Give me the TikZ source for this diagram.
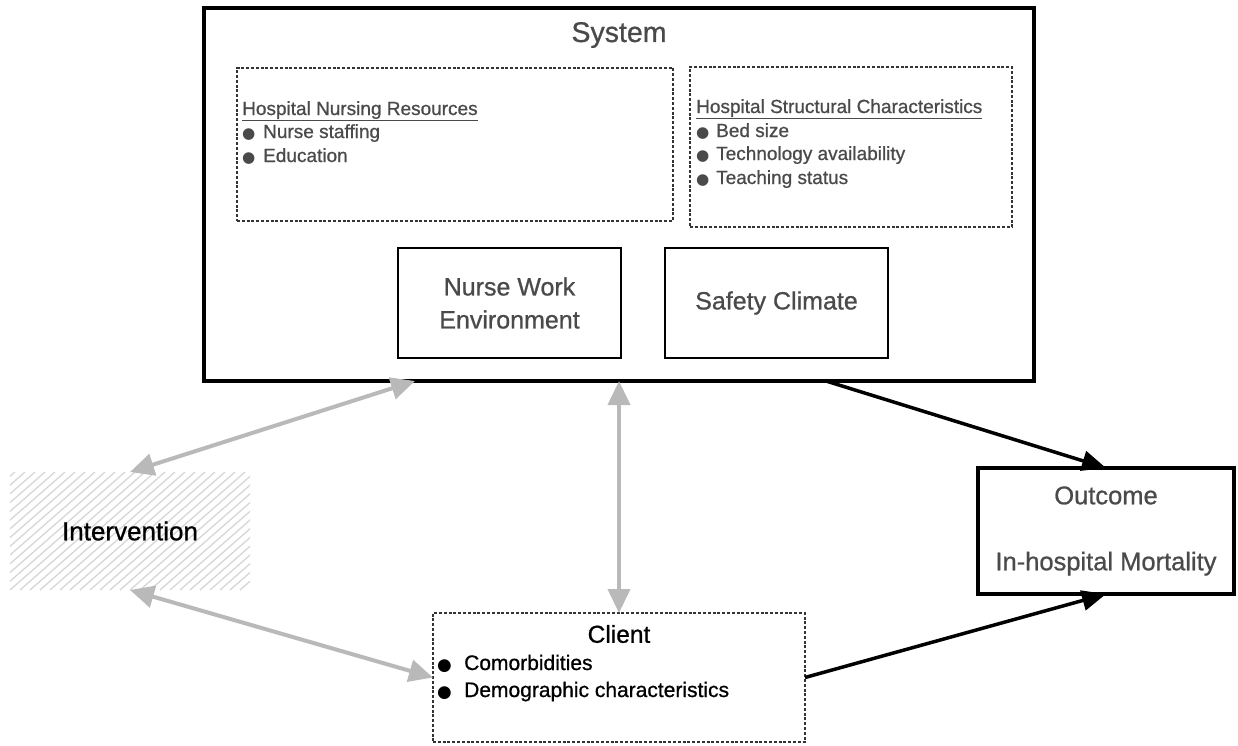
\documentclass[tikz,border=0pt]{standalone}
\usepackage{fontspec}
\setmainfont{Liberation Sans}[FakeBold=0.8]
\newfontfamily\symfont{DejaVu Sans}
\usetikzlibrary{arrows.meta,calc}
\definecolor{txtgray}{HTML}{4A4A4A}
\definecolor{arrgray}{HTML}{B9B9B9}
\definecolor{hatchgray}{HTML}{D6D6D6}
\newcommand{\bul}[1]{\makebox[#1][l]{\symfont\scalebox{0.8}{●}}}
\begin{document}
\begin{tikzpicture}[x=1pt,y=-1pt,
  thickbox/.style={draw=black, line width=3.5pt, outer sep=0pt, inner sep=0pt},
  midbox/.style={draw=black, line width=2.6pt, outer sep=0pt, inner sep=0pt},
  dashbox/.style={draw=black!80, line width=1.1pt, dash pattern=on 3pt off 1.8pt, outer sep=0pt, inner sep=0pt},
  listtxt/.style={anchor=base west, inner sep=0pt, text=txtgray, font=\fontsize{19}{22}\selectfont},
  clienttxt/.style={anchor=base west, inner sep=0pt, text=black, font=\fontsize{21}{24}\selectfont},
  bigtxt/.style={font=\fontsize{25}{33}\selectfont},
  garrow/.style={draw=arrgray, line width=4pt, {Triangle[length=24pt,width=22pt]}-{Triangle[length=24pt,width=22pt]}},
  barrow/.style={draw=black, line width=3.5pt, -{Triangle[length=24pt,width=20pt]}},
  hatch/.style={draw=hatchgray, line width=1.3pt}
]
\useasboundingbox (0,0) rectangle (1238,745);

% System box
\node[thickbox, minimum width=830pt, minimum height=373pt] (sys) at (619,194.5) {};
\node[text=txtgray, font=\fontsize{28.5}{30}\selectfont, inner sep=0pt] (systitle) at (619,35) {System};

% Hospital Nursing Resources
\node[dashbox, minimum width=436pt, minimum height=153pt] (hnr) at (455,144.5) {};
\node[listtxt] (hnr0) at (242,115) {\underline{Hospital Nursing Resources}};
\node[listtxt] (hnr1) at (242,138) {\bul{21pt}Nurse staffing};
\node[listtxt] (hnr2) at (242,162) {\bul{21pt}Education};

% Hospital Structural Characteristics
\node[dashbox, minimum width=322pt, minimum height=160pt] (hsc) at (851,147) {};
\node[listtxt] (hsc0) at (696,113) {\underline{Hospital Structural Characteristics}};
\node[listtxt] (hsc1) at (696,137) {\bul{20pt}Bed size};
\node[listtxt] (hsc2) at (696,160) {\bul{20pt}Technology availability};
\node[listtxt] (hsc3) at (696,184) {\bul{20pt}Teaching status};

% Nurse Work Environment / Safety Climate
\node[midbox, minimum width=223pt, minimum height=110pt, align=center, text=txtgray, bigtxt] (nwe) at (509.5,303) {Nurse Work\\Environment};
\node[midbox, minimum width=223pt, minimum height=110pt, align=center, text=txtgray, bigtxt] (sc) at (776.5,303) {Safety Climate};

% Intervention (hatched)
\node[minimum width=240pt, minimum height=118pt, inner sep=0pt, outer sep=0pt, text=black, font=\fontsize{26}{30}\selectfont,
  path picture={
    \foreach \i in {-150,-140,...,260}
      \draw[hatch] ($(path picture bounding box.south west)+(\i,0)$) -- ++(135,-118);
  }] (int) at (130,531) {Intervention};

% Client
\node[dashbox, minimum width=372pt, minimum height=129pt] (cl) at (619,677.5) {};
\node[text=black, font=\fontsize{24.5}{28}\selectfont, inner sep=0pt] (cltitle) at (619,634) {Client};
\node[clienttxt] (cl1) at (437,670) {\bul{27pt}Comorbidities};
\node[clienttxt] (cl2) at (437,697) {\bul{27pt}Demographic characteristics};

% Outcome
\node[thickbox, minimum width=256pt, minimum height=126pt, align=center, text=txtgray, font=\fontsize{25.5}{33}\selectfont] (out) at (1106,531) {Outcome\\[33pt]In-hospital Mortality};

% Connectors
\coordinate (s1) at (415,381);
\coordinate (s2) at (826,381);
\draw[garrow] (int.north) -- (s1);
\draw[garrow] (sys.south) -- (cl.north);
\draw[garrow] (int.south) -- (cl.west);
\draw[barrow] (s2) -- (out.north);
\draw[barrow] (cl.east) -- (out.south);
\end{tikzpicture}
\end{document}
